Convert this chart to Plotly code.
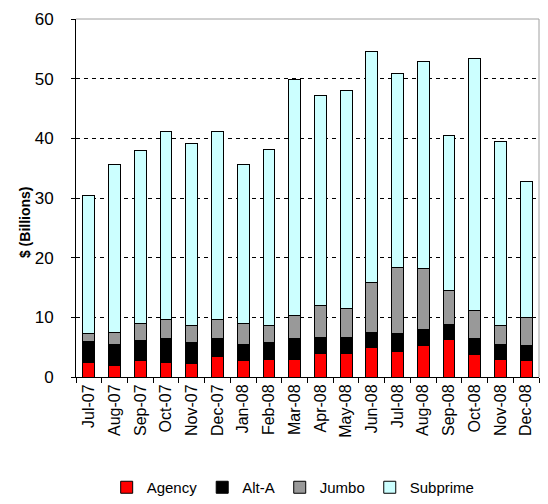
import plotly.graph_objects as go

months = ["Jul-07", "Aug-07", "Sep-07", "Oct-07", "Nov-07", "Dec-07",
          "Jan-08", "Feb-08", "Mar-08", "Apr-08", "May-08", "Jun-08",
          "Jul-08", "Aug-08", "Sep-08", "Oct-08", "Nov-08", "Dec-08"]

agency = [2.5, 2.0, 2.75, 2.5, 2.2, 3.5, 2.75, 3.0, 3.0, 4.0, 4.0, 5.0,
          4.25, 5.25, 6.3, 3.75, 3.0, 2.75]
alt_a = [3.5, 3.4, 3.45, 3.9, 3.6, 2.9, 2.7, 2.8, 3.4, 2.7, 2.7, 2.5,
         3.05, 2.75, 2.5, 2.75, 2.5, 2.5]
jumbo = [1.3, 2.0, 2.8, 3.3, 2.9, 3.3, 3.6, 2.9, 3.9, 5.3, 4.8, 8.4,
         11.1, 10.2, 5.7, 4.7, 3.2, 4.75]
subprime = [23.2, 28.2, 28.9, 31.5, 30.4, 31.5, 26.6, 29.4, 39.6, 35.2, 36.6, 38.6,
            32.5, 34.75, 25.9, 42.25, 30.7, 22.7]

series = [("Agency", agency, "#ff0000"),
          ("Alt-A", alt_a, "#000000"),
          ("Jumbo", jumbo, "#999999"),
          ("Subprime", subprime, "#ccffff")]

FONT = "Liberation Sans, Arial, sans-serif"

fig = go.Figure()
for name, vals, color in series:
    fig.add_trace(go.Bar(
        x=months, y=vals, name=name,
        marker=dict(color=color, line=dict(color="#000000", width=1)),
    ))

fig.update_layout(
    barmode="stack",
    bargap=0.54,
    width=548, height=504,
    margin=dict(l=76, r=9, t=19, b=127, autoexpand=False),
    paper_bgcolor="white",
    plot_bgcolor="white",
    font=dict(family=FONT, size=14, color="#000000"),
    showlegend=True,
    legend=dict(orientation="h", xref="container", x=0.535, xanchor="center",
                yref="container", y=0.0, yanchor="bottom",
                font=dict(family=FONT, size=15), itemwidth=30,
                tracegroupgap=0, traceorder="normal", itemclick=False),
    xaxis=dict(
        automargin=False,
        showline=True, linecolor="#000000", linewidth=1,
        ticks="outside", ticklen=5, tickcolor="#000000", tickson="boundaries",
        tickangle=-90, tickfont=dict(family=FONT, size=16),
        showgrid=False,
    ),
    yaxis=dict(
        automargin=False,
        range=[0, 60], dtick=10,
        showline=True, linecolor="#000000", linewidth=1,
        ticks="outside", ticklen=4, tickcolor="#000000",
        tickfont=dict(family=FONT, size=17),
        ticklabelstandoff=14,
        showgrid=True, gridcolor="#000000", gridwidth=1, griddash="4px,4px",
        zeroline=False,
    ),
    annotations=[
        dict(text="<b>$ (Billions)</b>", textangle=-90, showarrow=False,
             xref="paper", yref="paper", x=-0.11, y=0.433,
             xanchor="center", yanchor="middle",
             font=dict(family=FONT, size=14)),
    ],
    shapes=[
        dict(type="line", xref="paper", yref="paper", x0=0, x1=1, y0=1, y1=1,
             line=dict(color="#a0a0a0", width=1)),
        dict(type="line", xref="paper", yref="paper", x0=1, x1=1, y0=0, y1=1,
             line=dict(color="#a0a0a0", width=1)),
    ],
)

fig.write_html("out.html")
